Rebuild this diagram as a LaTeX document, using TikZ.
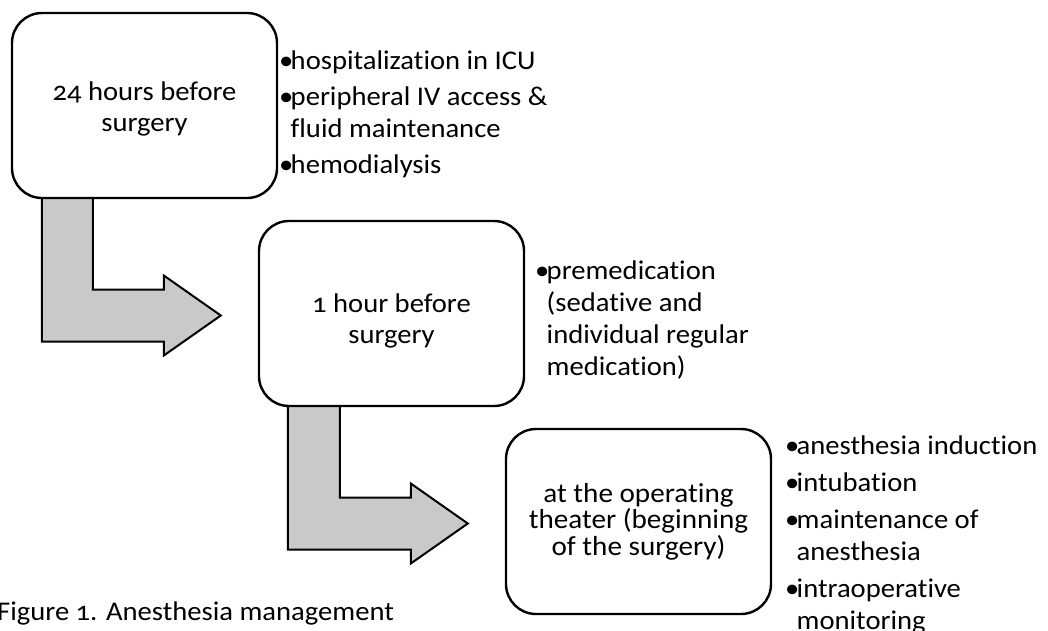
\documentclass[tikz,border=0pt]{standalone}
\usepackage{fontspec}
\setmainfont{Carlito}[Numbers=OldStyle,Ligatures=NoCommon,FakeStretch=1.06]
\usetikzlibrary{calc,backgrounds}
\definecolor{ink}{HTML}{000000}
\definecolor{arrowfill}{HTML}{C9C9C9}
\newcommand{\bul}{\makebox[9pt][c]{•}}
\newcommand{\hang}{\hspace*{9pt}}
\newcommand{\lift}[1]{\rule{0pt}{#1}}

\begin{document}
\begin{tikzpicture}[x=1pt,y=-1pt,
  stage/.style={draw=ink,line width=2.4pt,rounded corners=30pt,fill=white,minimum width=265pt,minimum height=185pt,align=center,font=\fontsize{27}{31}\selectfont},
  notes/.style={anchor=north west,inner sep=0pt,align=left,font=\fontsize{27}{32}\selectfont},
  bent/.style={draw=ink,line width=2pt,fill=arrowfill,line join=miter}]
\useasboundingbox (0,0) rectangle (1048,630);
\node[stage] (b1) at (144.5,105.5){\lift{25pt}24 hours before\\surgery};
\node[stage] (b2) at (391.5,313.5){\lift{34pt}1 hour before\\surgery};
\node[stage,font=\fontsize{27.5}{26.5}\selectfont] (b3) at (638.5,521.5){at the operating\\theater (beginning\\of the surgery)};
\node[notes] (n1) at (281.5,51){\bul hospitalization in ICU\\[4pt]\bul peripheral IV access \&\\\hang fluid maintenance\\[4pt]\bul hemodialysis};
\node[notes] (n2) at (537.5,261){\bul premedication\\\hang (sedative and\\\hang individual regular\\\hang medication)};
\node[notes] (n3) at (787.5,436){\bul anesthesia induction\\[5pt]\bul intubation\\[5pt]\bul maintenance of\\\hang anesthesia\\[5pt]\bul intraoperative\\\hang monitoring};
\node[anchor=base west,inner sep=0pt,font=\fontsize{27}{32}\selectfont] (cap) at (-3,620){Figure 1. Anesthesia management};
% bent arrows between the stages
\coordinate (s1) at ($(b1.south west)+(31,-4)$);
\coordinate (t1) at ($(b2.west)+(-37,2)$);
\coordinate (s2) at ($(b2.south west)+(30,-4)$);
\coordinate (t2) at ($(b3.west)+(-37,2)$);
\begin{scope}[on background layer]
\draw[bent] (s1) |- ($(t1)+(-57,26)$) -- ++(0,14) -- (t1) -- ++(-57,-40) -- ++(0,14) -| ($(s1)+(51,0)$) -- cycle;
\draw[bent] (s2) |- ($(t2)+(-57,26)$) -- ++(0,14) -- (t2) -- ++(-57,-40) -- ++(0,14) -| ($(s2)+(52,0)$) -- cycle;
\end{scope}
\end{tikzpicture}
\end{document}
